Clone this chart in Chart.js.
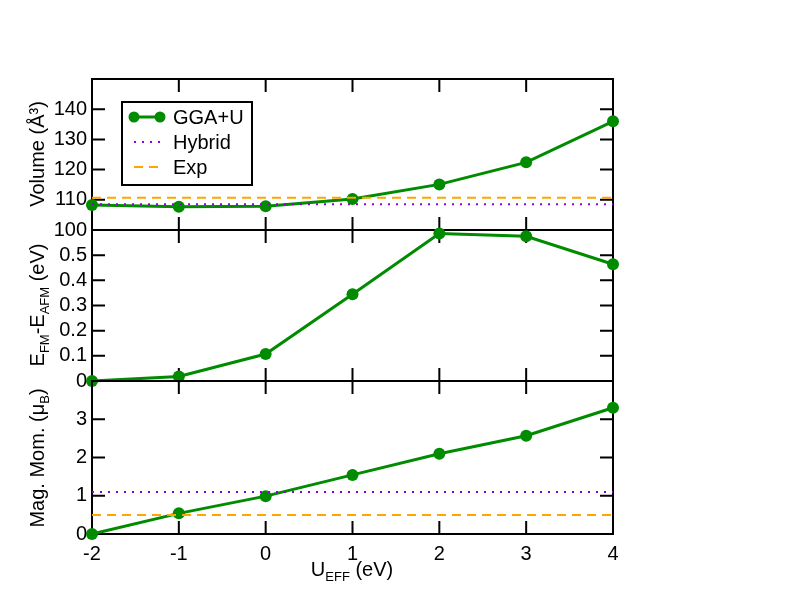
<!DOCTYPE html>
<html>
<head>
<meta charset="utf-8">
<script src="https://cdn.jsdelivr.net/npm/chart.js@4.4.0/dist/chart.umd.min.js"></script>
<style>
  body { margin: 0; background: #fff; }
  #wrap { position: relative; width: 792px; height: 612px; font-family: "Liberation Sans", Arial, sans-serif; color: #000; }
  canvas { position: absolute; left: 0; top: 0; }
  .title { position: absolute; white-space: nowrap; font-size: 20px; line-height: 20px; }
  .ytitle { transform: translate(-50%, -50%) rotate(-90deg); }
  .xtitle { transform: translate(-50%, -50%); }
  sub { font-size: 13px; line-height: 0; vertical-align: -5px; }
</style>
</head>
<body>
<div id="wrap">
  <canvas id="chartVol" width="792" height="612"></canvas>
  <canvas id="chartEn" width="792" height="612"></canvas>
  <canvas id="chartMag" width="792" height="612"></canvas>
  <div class="title ytitle" style="left:37px;top:154px;">Volume (Å³)</div>
  <div class="title ytitle" style="left:37px;top:305px;">E<sub>FM</sub>-E<sub>AFM</sub> (eV)</div>
  <div class="title ytitle" style="left:37px;top:458px;">Mag. Mom. (μ<sub>B</sub>)</div>
  <div class="title xtitle" style="left:352px;top:569px;">U<sub>EFF</sub> (eV)</div>
</div>
<script>
// U_EFF values (eV)
const uEff = [-2, -1, 0, 1, 2, 3, 4];

// volume (Å^3)
const volumeGGA = [108.3, 107.7, 107.9, 110.3, 115.1, 122.4, 136.0];
const volumeHybrid = [108.5, 108.5];
const volumeExp = [110.7, 110.7];

// E_FM - E_AFM (eV)
const energyGGA = [0, 0.018, 0.107, 0.345, 0.586, 0.575, 0.464];

// magnetic moment (mu_B)
const momentGGA = [0, 0.54, 0.99, 1.545, 2.10, 2.57, 3.30];
const momentHybrid = [1.1, 1.1];
const momentExp = [0.5, 0.5];

// ends of the reference lines
const refX = [-2, 4];

// tick labels
const xTicks = [-2, -1, 0, 1, 2, 3, 4];
const volumeTicks = [100, 110, 120, 130, 140];
const energyTicks = [0, 0.1, 0.2, 0.3, 0.4, 0.5];
const momentTicks = [0, 1, 2, 3];

const FONT = "'Liberation Sans', Arial, sans-serif";
const GREEN = '#008b00', VIOLET = '#9400d3', ORANGE = '#ffa500';

function pts(xs, ys) {
  return xs.map((x, i) => ({ x: x, y: ys[i] }));
}

function ggaSet(ys) {
  return {
    label: 'GGA+U', data: pts(uEff, ys), kind: 'gga',
    borderColor: GREEN, backgroundColor: GREEN, borderWidth: 3,
    pointRadius: 6, pointHoverRadius: 6, pointBorderWidth: 0,
    clip: false, order: 3
  };
}
function hybridSet(ys) {
  return {
    label: 'Hybrid', data: pts(refX, ys), kind: 'hybrid',
    borderColor: VIOLET, borderWidth: 2, borderDash: [2, 6],
    pointRadius: 0, clip: false, order: 2
  };
}
function expSet(ys) {
  return {
    label: 'Exp', data: pts(refX, ys), kind: 'exp',
    borderColor: ORANGE, borderWidth: 2, borderDash: [9, 6],
    pointRadius: 0, clip: false, order: 1
  };
}

// frame with inward ticks on all four sides
const framePlugin = {
  id: 'frame',
  beforeDatasetsDraw(chart) {
    const { ctx, chartArea: a, scales } = chart;
    const tl = 13;
    ctx.save();
    ctx.strokeStyle = '#000';
    ctx.lineWidth = 2;
    ctx.beginPath();
    xTicks.forEach(v => {
      const px = scales.x.getPixelForValue(v);
      ctx.moveTo(px, a.bottom); ctx.lineTo(px, a.bottom - tl);
      ctx.moveTo(px, a.top); ctx.lineTo(px, a.top + tl);
    });
    scales.y.ticks.forEach(t => {
      const py = scales.y.getPixelForValue(t.value);
      ctx.moveTo(a.left, py); ctx.lineTo(a.left + tl, py);
      ctx.moveTo(a.right, py); ctx.lineTo(a.right - tl, py);
    });
    ctx.stroke();
    ctx.strokeRect(a.left, a.top, a.right - a.left, a.bottom - a.top);
    ctx.restore();
  }
};

// boxed legend in the top panel
const boxLegend = {
  id: 'boxLegend',
  afterDatasetsDraw(chart) {
    const { ctx, chartArea: a } = chart;
    const bx = a.left + 30, by = a.top + 23, bw = 130, bh = 83;
    ctx.save();
    ctx.fillStyle = '#fff';
    ctx.fillRect(bx, by, bw, bh);
    ctx.strokeStyle = '#000';
    ctx.lineWidth = 2;
    ctx.strokeRect(bx, by, bw, bh);
    const x0 = bx + 12, x1 = bx + 38;
    chart.data.datasets.forEach((ds, i) => {
      const y = by + 15 + i * 25;
      ctx.strokeStyle = ds.borderColor;
      ctx.lineWidth = ds.borderWidth;
      ctx.setLineDash(ds.borderDash || []);
      ctx.beginPath();
      ctx.moveTo(x0, y); ctx.lineTo(x1, y);
      ctx.stroke();
      ctx.setLineDash([]);
      if (ds.kind === 'gga') {
        ctx.fillStyle = ds.backgroundColor;
        [x0, x1].forEach(px => {
          ctx.beginPath(); ctx.arc(px, y, 5.5, 0, Math.PI * 2); ctx.fill();
        });
      }
      ctx.fillStyle = '#000';
      ctx.font = '20px ' + FONT;
      ctx.textBaseline = 'middle';
      ctx.fillText(ds.label, bx + 51, y + 1);
    });
    ctx.restore();
  }
};

function makePanel(id, datasets, yMin, yMax, yTicks, top, bottom, showX, extra) {
  const xHeight = showX ? 46 : 0;
  return new Chart(document.getElementById(id), {
    type: 'line',
    data: { datasets: datasets },
    options: {
      responsive: false,
      animation: false,
      events: [],
      layout: { padding: { left: 0, right: 792 - 613, top: top, bottom: 612 - bottom - xHeight } },
      plugins: { legend: { display: false }, tooltip: { enabled: false } },
      scales: {
        x: {
          type: 'linear', min: -2, max: 4,
          grid: { display: false, drawTicks: false },
          border: { display: false },
          afterBuildTicks: s => { s.ticks = xTicks.map(v => ({ value: v })); },
          afterFit: s => { s.height = xHeight; },
          ticks: {
            display: showX, padding: 8, color: '#000',
            font: { family: FONT, size: 20 },
            callback: v => String(v)
          }
        },
        y: {
          type: 'linear', min: yMin, max: yMax,
          grid: { display: false, drawTicks: false },
          border: { display: false },
          afterBuildTicks: s => { s.ticks = yTicks.map(v => ({ value: v })); },
          afterFit: s => { s.width = 92; },
          ticks: {
            padding: 5, color: '#000',
            font: { family: FONT, size: 20 },
            callback: v => String(v)
          }
        }
      }
    },
    plugins: [framePlugin].concat(extra || [])
  });
}

makePanel('chartVol',
  [ggaSet(volumeGGA), hybridSet(volumeHybrid), expSet(volumeExp)],
  100, 150, volumeTicks, 79, 230, false, [boxLegend]);

makePanel('chartEn',
  [ggaSet(energyGGA)],
  0, 0.6, energyTicks, 230, 381, false);

makePanel('chartMag',
  [ggaSet(momentGGA), hybridSet(momentHybrid), expSet(momentExp)],
  0, 4, momentTicks, 381, 534, true);
</script>
</body>
</html>
